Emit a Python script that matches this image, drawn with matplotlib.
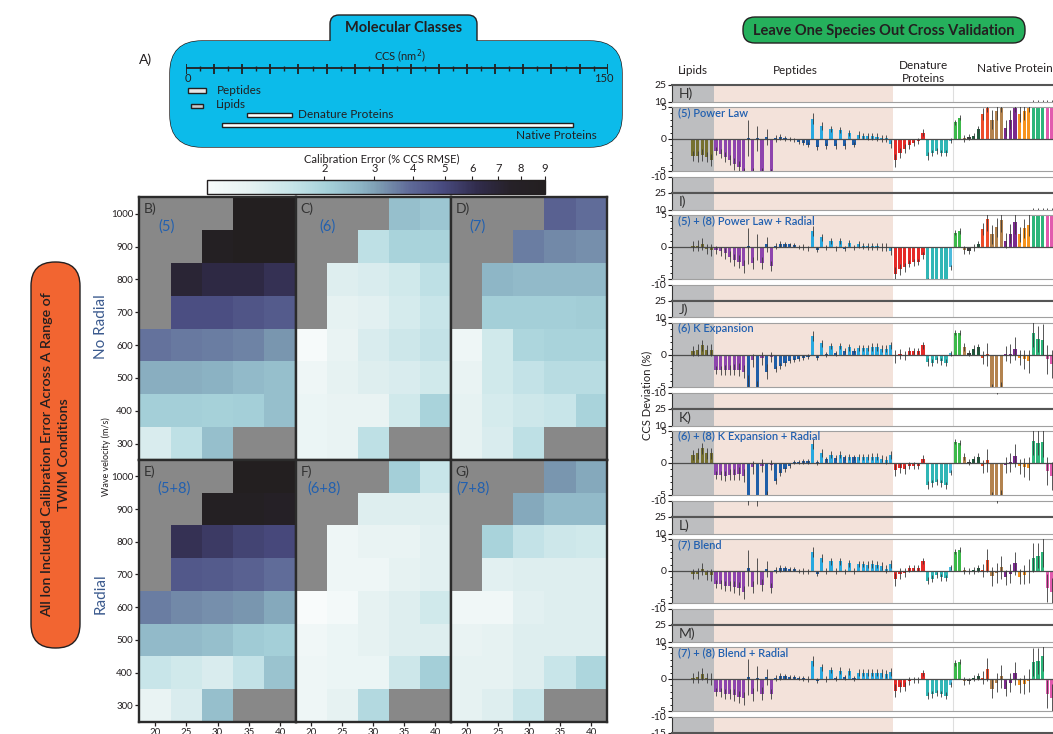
import numpy as np
import matplotlib
matplotlib.use("Agg")
import matplotlib.pyplot as plt
from matplotlib.patches import FancyBboxPatch, Rectangle
from matplotlib.colors import LinearSegmentedColormap, FuncNorm
from matplotlib.cm import ScalarMappable

plt.rcParams['font.family'] = ['Lato', 'DejaVu Sans']
plt.rcParams['axes.unicode_minus'] = False

# ---------------------------------------------------------------- data
ccs_classes = ['Peptides', 'Lipids', 'Denature Proteins', 'Native Proteins']
ccs_low = [0.8, 1.8, 21.6, 12.9]
ccs_high = [7.1, 6.2, 37.8, 137.6]

ramp_velocity = [20, 25, 30, 35, 40]
wave_velocity = [1000, 900, 800, 700, 600, 500, 400, 300]
nan = np.nan

rmse_B = [[nan, nan, nan, 9.0, 9.0],
          [nan, nan, 8.5, 9.0, 9.0],
          [nan, 7.0, 6.5, 6.5, 6.0],
          [nan, 4.8, 4.8, 4.6, 4.4],
          [3.8, 3.7, 3.6, 3.5, 3.2],
          [2.8, 2.8, 2.75, 2.6, 2.5],
          [2.1, 2.1, 2.05, 2.1, 2.5],
          [1.5, 1.8, 2.5, nan, nan]]
rmse_C = [[nan, nan, nan, 2.5, 2.3],
          [nan, nan, 1.8, 2.0, 2.0],
          [nan, 1.45, 1.5, 1.6, 1.8],
          [nan, 1.35, 1.4, 1.55, 1.7],
          [1.05, 1.3, 1.5, 1.65, 1.75],
          [1.2, 1.35, 1.45, 1.5, 1.6],
          [1.25, 1.3, 1.3, 1.6, 2.0],
          [1.25, 1.3, 1.8, nan, nan]]
rmse_D = [[nan, nan, nan, 4.2, 3.9],
          [nan, nan, 3.6, 3.4, 3.3],
          [nan, 2.7, 2.6, 2.6, 2.6],
          [nan, 2.1, 2.1, 2.1, 2.15],
          [1.2, 1.6, 1.95, 2.0, 2.0],
          [1.3, 1.6, 1.75, 1.85, 1.85],
          [1.35, 1.55, 1.65, 1.7, 2.0],
          [1.35, 1.5, 1.8, nan, nan]]
rmse_E = [[nan, nan, nan, 9.0, 9.0],
          [nan, nan, 8.5, 8.5, 8.0],
          [nan, 6.0, 5.6, 5.2, 5.0],
          [nan, 4.5, 4.4, 4.2, 3.9],
          [3.6, 3.4, 3.3, 3.2, 2.9],
          [2.6, 2.6, 2.5, 2.2, 2.1],
          [1.7, 1.6, 1.5, 1.75, 2.4],
          [1.3, 1.5, 2.5, nan, nan]]
rmse_F = [[nan, nan, nan, 2.1, 1.7],
          [nan, nan, 1.45, 1.45, 1.45],
          [nan, 1.2, 1.3, 1.3, 1.4],
          [nan, 1.2, 1.2, 1.35, 1.4],
          [1.0, 1.1, 1.35, 1.45, 1.6],
          [1.15, 1.25, 1.35, 1.45, 1.45],
          [1.2, 1.25, 1.25, 1.65, 2.1],
          [1.2, 1.35, 1.9, nan, nan]]
rmse_G = [[nan, nan, nan, 3.2, 2.9],
          [nan, nan, 2.9, 2.6, 2.6],
          [nan, 2.0, 1.75, 1.65, 1.6],
          [nan, 1.4, 1.45, 1.45, 1.45],
          [1.15, 1.15, 1.4, 1.45, 1.45],
          [1.3, 1.35, 1.45, 1.45, 1.45],
          [1.35, 1.35, 1.45, 1.7, 1.95],
          [1.35, 1.45, 1.7, nan, nan]]

cbar_values = [1, 2, 3, 4, 5, 6, 7, 8, 9]
cbar_frac = [0.0, 0.3465, 0.4945, 0.608, 0.704, 0.785, 0.862, 0.928, 1.0]

# CCS deviation (%) per species: lipids, peptides, denatured proteins, native proteins
H_lip = [-2.7, -2.7, -2.5, -2.8, -3.3]
I_lip = [0.1, 0.2, 0.5, -0.3, -0.5]
J_lip = [0.6, 0.8, 1.5, 0.8, 0.8]
K_lip = [1.3, 1.5, 2.3, 1.5, 1.5]
L_lip = [-0.5, -0.4, 0.3, -0.6, -0.6]
M_lip = [0.1, 0.3, 0.8, 0.2, 0.0]
lip_err = [0.8, 0.9, 0.9, 0.8, 0.9]

H_pep = [-1.9, -2.3, -2.8, -3.3, -3.9, -4.4, -5.5,
         0.1, -5.5, 0.1, -5.5, 0.3, -5.5,
         0.1, 0.3, 0.1, 0.05, -0.1, -0.5, -0.6, -0.9,
         3.2, -1.3, 2.0, -1.1, 1.6, -1.1, 1.4, -1.1, 0.9, -0.9,
         0.7, 0.5, 0.4, 0.4, 0.3, 0.1, 0.1, -0.8]
I_pep = [-0.5, -0.7, -1.0, -1.5, -2.0, -2.3, -3.0,
         0.1, -2.5, 0.0, -2.5, 0.4, -3.0,
         0.2, 0.5, 0.4, 0.4, 0.3, 0.0, 0.0, -0.2,
         2.5, -0.4, 1.5, -0.1, 0.9, -0.2, 0.9, -0.3, 0.6, -0.1,
         0.4, 0.2, 0.1, 0.1, 0.1, 0.0, 0.0, -0.6]
J_pep = [-2.3, -2.4, -2.3, -2.4, -2.3, -2.3, -2.6,
         -6.0, -0.8, -6.0, -0.5, -2.6, -0.3,
         -2.2, -1.7, -1.3, -1.0, -0.8, -0.6, -0.4, -0.3,
         3.0, -0.4, 1.8, 0.1, 1.4, 0.3, 1.4, 0.7, 1.2, 0.7,
         1.1, 1.1, 1.1, 1.2, 1.2, 1.0, 1.0, 1.5]
K_pep = [-1.9, -1.9, -2.0, -1.8, -1.8, -1.7, -2.0,
         -8.5, -0.7, -9.5, -0.4, -5.5, -0.3,
         -2.8, -1.5, -1.0, -0.5, 0.2, 0.1, 0.3, 0.3,
         3.0, 0.1, 1.6, 0.6, 1.3, 0.8, 1.3, 0.9, 0.9, 0.9,
         0.9, 0.9, 0.9, 1.0, 1.0, 0.7, 0.5, 1.3]
L_pep = [-2.0, -2.1, -2.3, -2.3, -2.5, -2.7, -3.3,
         0.5, -2.5, 0.0, -2.2, 0.3, -2.6,
         0.2, 0.4, 0.4, 0.3, 0.3, 0.0, 0.0, -0.1,
         3.0, -0.4, 2.0, 0.0, 1.5, 0.0, 1.5, -0.1, 1.2, 0.0,
         1.1, 1.1, 1.0, 1.1, 1.0, 0.8, 0.3, 1.1]
M_pep = [-2.0, -2.1, -2.3, -2.4, -2.5, -2.8, -3.0,
         0.3, -2.4, 0.1, -2.3, 0.3, -2.4,
         0.2, 0.4, 0.4, 0.3, 0.3, 0.1, 0.1, 0.0,
         2.8, -0.3, 1.8, 0.0, 1.4, 0.1, 1.3, 0.3, 1.2, 0.1,
         1.0, 1.0, 1.0, 1.0, 1.0, 0.9, 0.8, 1.1]
pep_err = [0.6, 0.7, 0.8, 0.8, 0.9, 1.0, 1.0,
           2.8, 1.0, 2.0, 1.0, 1.2, 0.8,
           0.5, 0.5, 0.4, 0.3, 0.3, 0.3, 0.4, 0.4,
           0.8, 0.4, 0.6, 0.4, 0.5, 0.4, 0.5, 0.4, 0.5, 0.4,
           0.5, 0.5, 0.5, 0.6, 0.6, 0.6, 0.6, 0.6]
pep_class = ['P'] * 7 + ['D', 'P', 'D', 'P', 'D', 'P'] + ['D'] * 8 + ['L', 'D'] * 5 + ['L'] * 8

H_den = [-3.3, -2.2, -1.5, -0.9, -0.6, -0.3, 1.0, -2.7, -2.2, -1.9, -2.2, -2.2, -0.3]
I_den = [-4.2, -3.5, -3.2, -2.6, -2.4, -2.3, -1.3, -5.5, -5.5, -5.5, -5.5, -5.5, -3.2]
J_den = [-0.2, 0.2, -0.1, 0.6, 0.6, 0.6, 1.5, -1.1, -1.2, -0.8, -1.0, -1.2, 0.3]
K_den = [-1.1, -0.8, -1.0, -0.4, -0.4, -0.5, 0.7, -3.4, -3.2, -3.0, -3.2, -3.5, -1.5]
L_den = [-1.3, -0.4, -0.3, 0.4, 0.5, 0.5, 1.6, -1.5, -1.2, -0.6, -1.0, -1.1, 0.6]
M_den = [-1.8, -1.2, -1.2, -0.3, -0.2, -0.2, 0.9, -2.6, -2.4, -2.2, -2.3, -2.6, -0.9]
den_err = [1.0, 0.8, 0.7, 0.6, 0.5, 0.5, 0.5, 0.6, 0.5, 0.5, 0.5, 0.5, 0.4]
den_class = ['red'] * 7 + ['teal'] * 5 + ['sky']

H_nat = [2.6, 3.3, 0.1, 0.3, 0.5, 1.5, 3.9, 6.0, 3.0, 4.4, 6.0, 1.7, 3.0, 6.0, 3.9, 4.4, 6.0, 9.0, 9.0, 9.0, 9.0, 9.0]
I_nat = [2.2, 2.5, -0.5, -0.6, -0.1, 0.5, 2.8, 4.3, 2.0, 3.1, 4.2, 1.0, 2.1, 3.9, 2.0, 2.9, 3.5, 9.0, 9.0, 9.0, 9.0, 9.0]
J_nat = [3.5, 3.5, 1.2, 0.3, 1.0, 1.2, -0.4, 0.1, -6.0, -8.8, -6.0, 0.2, 0.2, 1.0, -0.4, -0.7, -1.0, 3.4, 2.5, 2.4, -0.7, -1.4]
K_nat = [3.3, 3.2, 1.0, 0.2, 0.6, 1.0, -0.5, 0.4, -6.0, -9.0, -6.0, -0.3, 0.1, 1.1, -0.5, -0.7, -0.8, 3.5, 3.2, 3.3, -1.3, -2.0]
L_nat = [3.0, 3.3, 0.1, 0.0, 0.1, 0.4, 0.1, 1.7, -0.8, -0.3, 0.6, -1.0, -0.4, 1.2, -0.9, -0.6, 0.0, 2.1, 2.4, 3.0, -2.6, -3.3]
M_nat = [2.5, 2.7, -0.3, -0.3, 0.2, 0.4, 0.2, 1.5, -1.5, -0.6, 0.4, -1.5, -0.6, 0.9, -1.0, -0.8, -0.3, 2.7, 2.8, 3.6, -2.3, -3.0]
nat_err = [0.4, 0.4, 0.6, 0.5, 0.5, 0.5, 1.0, 1.8, 1.5, 1.5, 1.8, 1.2, 1.5, 1.8, 1.2, 1.5, 1.8, 2.2, 2.0, 2.4, 2.2, 2.2]
nat_class = ['green', 'green', 'brown', 'dark', 'dkgreen', 'dkgreen', 'redor', 'redor',
             'brown', 'brown', 'brown', 'npurple', 'npurple', 'npurple',
             'orange', 'orange', 'orange', 'tgreen', 'tgreen', 'tgreen', 'pink', 'pink']

panel_letters = ['H)', 'I)', 'J)', 'K)', 'L)', 'M)']
panel_names = ['(5) Power Law', '(5) + (8) Power Law + Radial', '(6) K Expansion',
               '(6) + (8) K Expansion + Radial', '(7) Blend', '(7) + (8) Blend + Radial']
dev_lip = [H_lip, I_lip, J_lip, K_lip, L_lip, M_lip]
dev_pep = [H_pep, I_pep, J_pep, K_pep, L_pep, M_pep]
dev_den = [H_den, I_den, J_den, K_den, L_den, M_den]
dev_nat = [H_nat, I_nat, J_nat, K_nat, L_nat, M_nat]

# ---------------------------------------------------------------- styles
palette = {'olive': '#76702f', 'P': '#8e45ad', 'D': '#1f5ea8', 'L': '#28a9e0',
           'red': '#e52b28', 'teal': '#30b6b6', 'sky': '#4dbbdc',
           'green': '#3cb94a', 'brown': '#b3834f', 'dark': '#3d3d3d', 'dkgreen': '#1e5a3c',
           'redor': '#ee4d2a', 'npurple': '#7b2a8e', 'orange': '#f7941e',
           'tgreen': '#2cb67a', 'pink': '#e15aae'}
TXT = '#231f20'
BLUE_TXT = '#2160b0'

W, H = 1053, 734
fig = plt.figure(figsize=(W / 100, H / 100), dpi=100)


def fa(x0, y0, x1, y1):
    return [x0 / W, 1 - y1 / H, (x1 - x0) / W, (y1 - y0) / H]


ov = fig.add_axes([0, 0, 1, 1])
ov.set_xlim(0, W)
ov.set_ylim(H, 0)
ov.axis('off')


def rbox(x0, y0, x1, y1, r, fc, ec=TXT, lw=1.0, z=1):
    p = FancyBboxPatch((x0, y0), x1 - x0, y1 - y0,
                       boxstyle=f"round,pad=0,rounding_size={r}",
                       fc=fc, ec=ec, lw=lw, zorder=z)
    ov.add_patch(p)
    return p


CYAN = '#0cbbea'
rbox(170, 41, 622, 147, 32, CYAN, z=1)
rbox(330, 15, 477, 50, 9, CYAN, z=2)
rbox(170, 41, 622, 147, 32, CYAN, ec='none', lw=0, z=3)
ov.add_patch(Rectangle((331, 37), 145, 8, fc=CYAN, ec='none', zorder=4))
ov.text(403.5, 28, 'Molecular Classes', ha='center', va='center', fontsize=10.5,
        fontweight='bold', color=TXT, zorder=6)
ov.text(139, 60, 'A)', ha='left', va='center', fontsize=10, color=TXT)

# green title
rbox(743, 17, 1025, 43, 12, '#25b05c', z=1)
ov.text(884, 30.5, 'Leave One Species Out Cross Validation', ha='center', va='center',
        fontsize=10.5, fontweight='bold', color=TXT, zorder=6)

# orange side label
rbox(31, 262, 80, 648, 24, '#f26531', z=1)
ov.text(47, 455, 'All Ion Included Calibration Error Across A Range of', rotation=90,
        ha='center', va='center', fontsize=10.3, fontweight='semibold', color=TXT, zorder=6)
ov.text(64, 455, 'TWIM Conditions', rotation=90,
        ha='center', va='center', fontsize=10.3, fontweight='semibold', color=TXT, zorder=6)

# ---------------------------------------------------------------- CCS schematic
ax_ccs = fig.add_axes(fa(186, 50, 607.7, 140))
ax_ccs.set_xlim(0, 150)
ax_ccs.set_ylim(140, 50)
ax_ccs.axis('off')
ax_ccs.set_zorder(5)
ax_ccs.plot([-1.1, 150.4], [68.3, 68.3], color=TXT, lw=1.3, solid_capstyle='butt')
ax_ccs.vlines(np.arange(0, 151, 10), 63.5, 73.5, color=TXT, lw=1.3)
ax_ccs.vlines(np.arange(5, 150, 10), 66, 70.8, color=TXT, lw=1.0)
ax_ccs.text(0.6, 78.5, '0', ha='center', va='center', fontsize=8, color=TXT)
ax_ccs.text(148.5, 78.5, '150', ha='center', va='center', fontsize=8, color=TXT)
ax_ccs.text(76, 56.5, 'CCS (nm$^2$)', ha='center', va='center', fontsize=8, color=TXT)
row_y = [90.7, 106, 115, 125]
fills = ['#e6e6e6', '#c8c8c8', 'white', 'white']
for lo, hi, yy, fc in zip(ccs_low, ccs_high, row_y, fills):
    ax_ccs.add_patch(Rectangle((lo, yy - 2.3), hi - lo, 4.6, fc=fc, ec=TXT, lw=1.0))
ax_ccs.text(10.9, 91, ccs_classes[0], ha='left', va='center', fontsize=8.5, color=TXT)
ax_ccs.text(10.7, 104.5, ccs_classes[1], ha='left', va='center', fontsize=8.5, color=TXT)
ax_ccs.text(39.7, 114.5, ccs_classes[2], ha='left', va='center', fontsize=8.5, color=TXT)
ax_ccs.text(146, 135.5, ccs_classes[3], ha='right', va='center', fontsize=8.5, color=TXT)

# ---------------------------------------------------------------- colormap / colorbar
cmap = LinearSegmentedColormap.from_list('cal', [
    (0.00, '#f8fbfb'), (0.12, '#e6f2f2'), (0.25, '#c6e4e8'), (0.35, '#a7d2da'),
    (0.45, '#8eb6c6'), (0.50, '#7f9fb4'), (0.60, '#5f6a98'), (0.70, '#484a7e'),
    (0.80, '#312c4c'), (0.90, '#262128'), (1.00, '#231f20')])
cmap.set_bad('#888888')
norm = FuncNorm((lambda v: np.interp(v, cbar_values, cbar_frac),
                 lambda p: np.interp(p, cbar_frac, cbar_values)), vmin=1, vmax=9)

cax = fig.add_axes(fa(207.3, 180, 545, 194.3))
cb = fig.colorbar(ScalarMappable(norm=norm, cmap=cmap), cax=cax,
                  orientation='horizontal', ticklocation='top')
cb.set_ticks(cbar_values[1:])
cb.ax.tick_params(labelsize=8, length=3, width=0.8, pad=1, colors=TXT)
cb.outline.set_edgecolor(TXT)
cb.outline.set_linewidth(1.0)
ov.text(381.7, 158.3, 'Calibration Error (% CCS RMSE)', ha='center', va='center',
        fontsize=8, color=TXT)

# ---------------------------------------------------------------- heatmaps
def edges(c):
    c = np.asarray(c, float)
    mid = (c[:-1] + c[1:]) / 2
    return np.concatenate([[c[0] - (mid[0] - c[0])], mid, [c[-1] + (c[-1] - mid[-1])]])


xe = edges(ramp_velocity)
ye = edges(wave_velocity)
cols_x = [139.3, 295.7, 451.0, 606.7]
rows_y = [197.3, 460.0, 721.7]
hm_data = [[rmse_B, rmse_C, rmse_D], [rmse_E, rmse_F, rmse_G]]
hm_letters = [['B)', 'C)', 'D)'], ['E)', 'F)', 'G)']]
hm_names = [['(5)', '(6)', '(7)'], ['(5+8)', '(6+8)', '(7+8)']]
name_x = [[0.12, 0.15, 0.115], [0.118, 0.077, 0.037]]
for r in range(2):
    for c in range(3):
        ax = fig.add_axes(fa(cols_x[c], rows_y[r], cols_x[c + 1], rows_y[r + 1]))
        Z = np.ma.masked_invalid(np.array(hm_data[r][c], float))
        ax.set_facecolor('#888888')
        ax.pcolormesh(xe, ye, Z, cmap=cmap, norm=norm, shading='flat')
        ax.set_xlim(xe[0], xe[-1])
        ax.set_ylim(ye[-1], ye[0])
        for s in ax.spines.values():
            s.set_linewidth(1.7)
            s.set_color('#2b2b2b')
        if c == 0:
            ax.set_yticks(wave_velocity)
            ax.set_yticklabels([str(v) for v in wave_velocity])
        else:
            ax.set_yticks([])
        if r == 1:
            ax.set_xticks(ramp_velocity)
            ax.set_xticklabels([str(v) for v in ramp_velocity])
        else:
            ax.set_xticks([])
        ax.tick_params(labelsize=7, length=3, width=0.9, pad=1.5, colors=TXT)
        ax.text(0.03, 0.955, hm_letters[r][c], transform=ax.transAxes, ha='left', va='center',
                fontsize=10, color='#333333')
        ax.text(name_x[r][c], 0.89, hm_names[r][c], transform=ax.transAxes, ha='left',
                va='center', fontsize=10.5, color=BLUE_TXT)

ov.text(101, 327, 'No Radial', rotation=90, ha='center', va='center', fontsize=11,
        color='#3b5a8e')
ov.text(101, 594, 'Radial', rotation=90, ha='center', va='center', fontsize=11,
        color='#3b5a8e')
ov.text(106, 457, 'Wave velocity (m/s)', rotation=90, ha='center', va='center',
        fontsize=6.5, color=TXT)

# ---------------------------------------------------------------- LOSO bar panels
n_lip, n_pep, n_den, n_nat = len(H_lip), len(H_pep), len(H_den), len(H_nat)
xb = np.arange(n_lip + n_pep + n_den + n_nat)
b1 = n_lip - 0.5
b2 = b1 + n_pep
b3 = b2 + n_den
xlim = (-4.55, 78.28)
bar_colors = ([palette['olive']] * n_lip + [palette[k] for k in pep_class] +
              [palette[k] for k in den_class] + [palette[k] for k in nat_class])
errs = np.array(lip_err + pep_err + den_err + nat_err)

for k in range(6):
    base = 85 + 108 * k
    vals = np.array(dev_lip[k] + dev_pep[k] + dev_den[k] + dev_nat[k])
    segs = [(base, base + 16.5, (10, 25), [10, 25]),
            (base + 22, base + 86, (-5, 5), [-5, 0, 5]),
            (base + 92, base + 108, (-15, -10), [-15, -10] if k == 5 else [-10])]
    for si, (y0, y1, yl, yt) in enumerate(segs):
        ax = fig.add_axes(fa(672, y0, 1053, y1))
        ax.set_xlim(*xlim)
        ax.set_ylim(*yl)
        ax.axvspan(xlim[0], b1, color='#bdbec0', lw=0, zorder=0)
        ax.axvspan(b1, b2, color='#f3e2da', lw=0, zorder=0)
        ax.axvline(b3, color='#dedede', lw=0.8, zorder=0.5)
        ax.bar(xb, vals, width=0.7, color=bar_colors, zorder=2)
        ax.errorbar(xb, vals, yerr=errs, fmt='none', ecolor='#3a3a3a', elinewidth=0.6,
                    capsize=0, zorder=3)
        ax.set_xticks([])
        ax.set_yticks(yt)
        ax.set_yticklabels([str(v) for v in yt])
        ax.tick_params(axis='y', labelsize=7.5, length=3, width=0.8, pad=1, colors=TXT)
        ax.spines['right'].set_visible(False)
        ax.spines['left'].set_color('#333333')
        ax.spines['left'].set_linewidth(0.8)
        if si == 0:
            ax.spines['top'].set_color('#555555')
            ax.spines['top'].set_linewidth(1.5)
            ax.spines['bottom'].set_color('#a0a0a0')
            ax.spines['bottom'].set_linewidth(0.8)
            ax.text(0.017, 0.45, panel_letters[k], transform=ax.transAxes, ha='left',
                    va='center', fontsize=10, color='#333333')
        elif si == 1:
            ax.spines['top'].set_color('#a0a0a0')
            ax.spines['bottom'].set_color('#a0a0a0')
            ax.spines['top'].set_linewidth(0.8)
            ax.spines['bottom'].set_linewidth(0.8)
            ax.axhline(0, color='#4d4d4d', lw=0.9, zorder=2.5)
            ax.set_yticks(np.arange(-4, 5), minor=True)
            ax.tick_params(axis='y', which='minor', length=1.5, width=0.6)
            ax.text(0.016, 0.91, panel_names[k], transform=ax.transAxes, ha='left',
                    va='center', fontsize=8, fontweight='semibold', color=BLUE_TXT, zorder=5)
        else:
            ax.spines['top'].set_color('#a0a0a0')
            ax.spines['top'].set_linewidth(0.8)
            ax.spines['bottom'].set_color('#555555')
            ax.spines['bottom'].set_linewidth(1.5)

ov.text(693, 71, 'Lipids', ha='center', va='center', fontsize=8.5, color=TXT)
ov.text(795, 71, 'Peptides', ha='center', va='center', fontsize=8.5, color=TXT)
ov.text(923, 72, 'Denature\nProteins', ha='center', va='center', fontsize=8.5, color=TXT,
        linespacing=1.15)
ov.text(1017, 69, 'Native Proteins', ha='center', va='center', fontsize=8.5, color=TXT)
ov.text(647, 395, 'CCS Deviation (%)', rotation=90, ha='center', va='center', fontsize=8,
        color=TXT)

fig.savefig('out.png', dpi=100)
